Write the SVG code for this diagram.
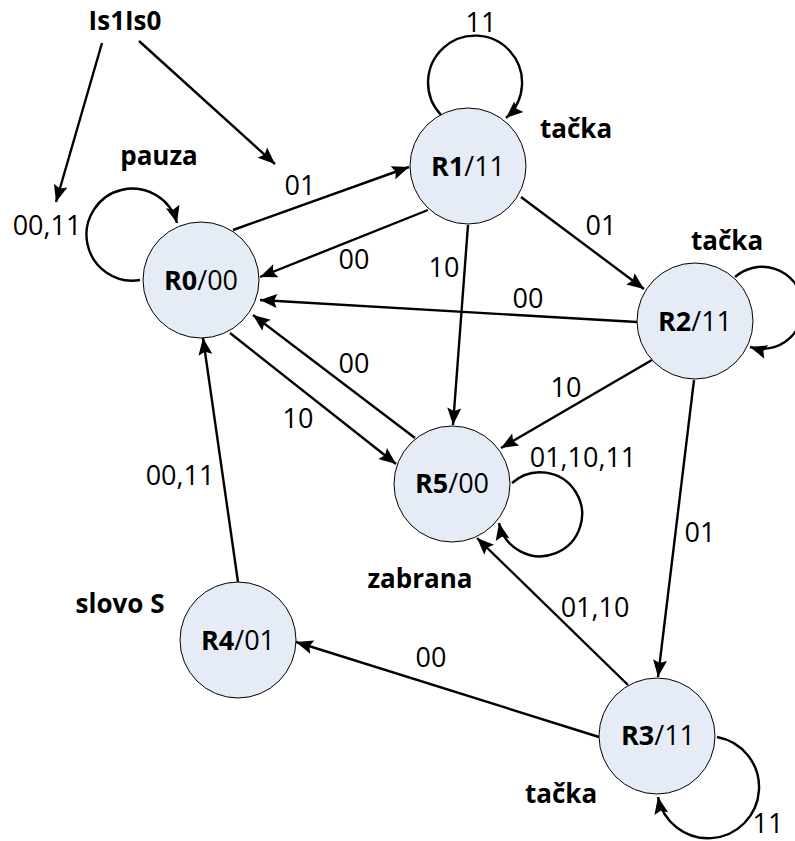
<svg xmlns="http://www.w3.org/2000/svg" width="795" height="841" viewBox="0 0 795 841">
  <style>
    .state { fill: #e6ecf6; stroke: #000; stroke-width: 1; }
    .name { font-family: "Open Sans", "Liberation Sans", sans-serif; font-size: 27px; fill: #000; text-anchor: middle; }
    .lbl { font-family: "Open Sans", "Liberation Sans", sans-serif; font-size: 27px; fill: #000; text-anchor: middle; }
    .note { font-family: "Open Sans", "Liberation Sans", sans-serif; font-size: 26px; font-weight: bold; fill: #000; text-anchor: middle; }
    .edge { fill: none; stroke: #000; stroke-width: 2.4; marker-end: url(#head); }
  </style>
  <defs>
    <marker id="head" markerUnits="userSpaceOnUse" viewBox="-18 -8 19 16" refX="0" refY="0" markerWidth="19" markerHeight="16" orient="auto">
      <path d="M0,0 L-17,-7 L-14,0 L-17,7 Z" fill="#000"/>
    </marker>
  </defs>
  <rect width="795" height="841" fill="#fff"/>

  <!-- transitions -->
  <g id="connectors">
    <path class="edge" d="M102,43 L56,202"/>
    <path class="edge" d="M139,41 L275,164"/>
    <path class="edge" d="M140,280 A46,46 0 1 1 177,223"/>
    <path class="edge" d="M233,230 L409,167"/>
    <path class="edge" d="M428,210 L260,277"/>
    <path class="edge" d="M637,322 L260,300"/>
    <path class="edge" d="M415,438 L253,315"/>
    <path class="edge" d="M230,333 L396,464"/>
    <path class="edge" d="M468,225 L453,425"/>
    <path class="edge" d="M521,197 L644,289"/>
    <path class="edge" d="M735,277 A41,41 0 1 1 750,347"/>
    <path class="edge" d="M652,360 L501,448"/>
    <path class="edge" d="M694,380 L658,677"/>
    <path class="edge" d="M512,483 A42,42 0 1 1 499,523"/>
    <path class="edge" d="M628,685 L477,538"/>
    <path class="edge" d="M599,737 L296,642"/>
    <path class="edge" d="M717,737 A51,51 0 1 1 658,797"/>
    <path class="edge" d="M238,582 L203,338"/>
    <path class="edge" d="M441,115 A47,47 0 1 1 506,118"/>
  </g>

  <!-- transition labels -->
  <g id="labels">
    <text class="note" x="125" y="30">Is1Is0</text>
    <text class="note" x="159" y="165">pauza</text>
    <text class="lbl" x="47" y="235">00,11</text>
    <text class="lbl" x="300" y="195">01</text>
    <text class="lbl" x="481" y="32">11</text>
    <text class="note" x="576" y="138">tačka</text>
    <text class="lbl" x="601" y="235">01</text>
    <text class="note" x="727" y="250">tačka</text>
    <text class="lbl" x="354" y="269">00</text>
    <text class="lbl" x="444" y="277">10</text>
    <text class="lbl" x="528" y="308">00</text>
    <text class="lbl" x="354" y="373">00</text>
    <text class="lbl" x="566" y="397">10</text>
    <text class="lbl" x="298" y="428">10</text>
    <text class="lbl" x="583" y="467">01,10,11</text>
    <text class="note" x="420" y="588">zabrana</text>
    <text class="lbl" x="595" y="617">01,10</text>
    <text class="lbl" x="700" y="542">01</text>
    <text class="lbl" x="431" y="667">00</text>
    <text class="note" x="561" y="803">tačka</text>
    <text class="lbl" x="768" y="833">11</text>
    <text class="lbl" x="180" y="485">00,11</text>
    <text class="note" x="120" y="613">slovo S</text>
  </g>

  <!-- states -->
  <g id="R0">
    <circle class="state" cx="201" cy="280" r="58"/>
    <text class="name" x="201" y="290"><tspan font-weight="bold">R0</tspan>/00</text>
  </g>
  <g id="R1">
    <circle class="state" cx="468" cy="166" r="58"/>
    <text class="name" x="468" y="176"><tspan font-weight="bold">R1</tspan>/11</text>
  </g>
  <g id="R2">
    <circle class="state" cx="695" cy="321" r="58"/>
    <text class="name" x="695" y="331"><tspan font-weight="bold">R2</tspan>/11</text>
  </g>
  <g id="R3">
    <circle class="state" cx="657" cy="736" r="58"/>
    <text class="name" x="658" y="745"><tspan font-weight="bold">R3</tspan>/11</text>
  </g>
  <g id="R4">
    <circle class="state" cx="238" cy="640" r="58"/>
    <text class="name" x="238" y="650"><tspan font-weight="bold">R4</tspan>/01</text>
  </g>
  <g id="R5">
    <circle class="state" cx="452" cy="484" r="58"/>
    <text class="name" x="452" y="493"><tspan font-weight="bold">R5</tspan>/00</text>
  </g>
</svg>
